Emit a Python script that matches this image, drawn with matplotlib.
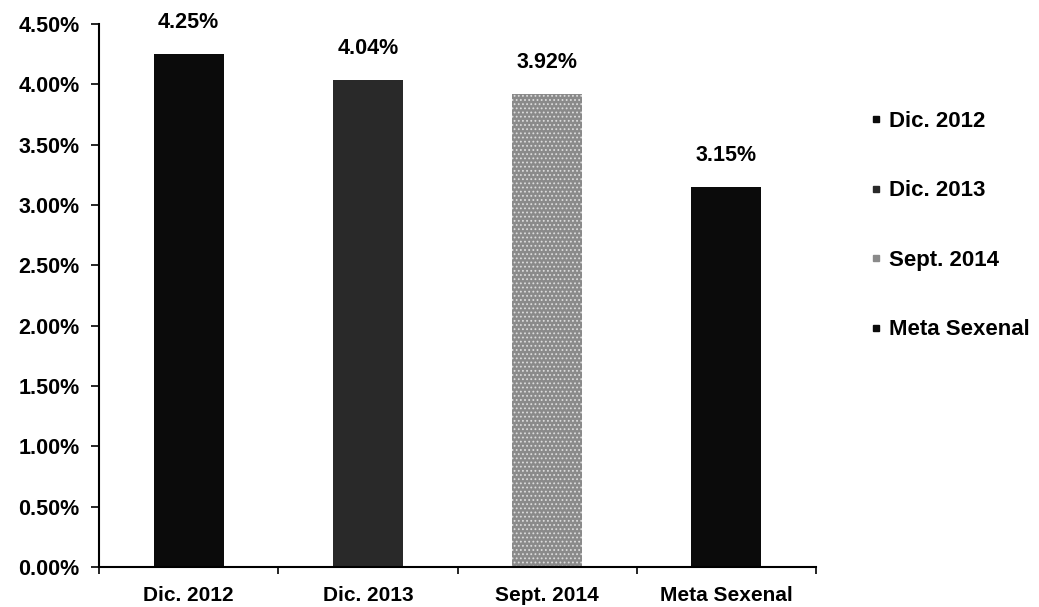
import matplotlib
matplotlib.use("Agg")
import matplotlib.pyplot as plt
from matplotlib.lines import Line2D
from matplotlib.ticker import FuncFormatter, MultipleLocator

categories = ["Dic. 2012", "Dic. 2013", "Sept. 2014", "Meta Sexenal"]
values = [4.25, 4.04, 3.92, 3.15]
colors = ["#0b0b0b", "#292929", "#8a8a8a", "#0b0b0b"]
hatches = [None, None, "....", None]

plt.rcParams["font.family"] = ["Liberation Sans", "DejaVu Sans"]
plt.rcParams["font.weight"] = "bold"
plt.rcParams["hatch.linewidth"] = 0.8

fig = plt.figure(figsize=(10.39, 6.07), dpi=100)
ax = fig.add_axes([99/1039, 1-567/607, (816-99)/1039, (567-24)/607])

x = list(range(len(categories)))
bars = ax.bar(x, values, width=0.39, color=colors, edgecolor="none", linewidth=0)
for b, h in zip(bars, hatches):
    if h:
        b.set_hatch(h)
        b.set_edgecolor("#dcdcdc")
        b.set_linewidth(0)

for xi, v in zip(x, values):
    ax.annotate(f"{v:.2f}%", (xi, v), xytext=(0, 18.5), textcoords="offset points",
                ha="center", va="baseline", fontsize=15.5, fontweight="bold")

ax.set_xlim(-0.5, len(categories) - 0.5)
ax.set_ylim(0, 4.5)
ax.yaxis.set_major_locator(MultipleLocator(0.5))
ax.yaxis.set_major_formatter(FuncFormatter(lambda v, p: f"{v:.2f}%"))
ax.set_xticks(x)
ax.set_xticklabels(categories)
ax.set_xticks([i - 0.5 for i in range(len(categories) + 1)], minor=True)
ax.tick_params(axis="x", which="major", length=0, pad=14, labelsize=15)
ax.tick_params(axis="x", which="minor", length=5, width=1.2, direction="out")
ax.tick_params(axis="y", which="major", length=6, width=1.2, direction="out", pad=8, labelsize=15.5)
for s in ["top", "right"]:
    ax.spines[s].set_visible(False)
for s in ["left", "bottom"]:
    ax.spines[s].set_linewidth(1.5)
for lbl in ax.get_xticklabels() + ax.get_yticklabels():
    lbl.set_fontweight("bold")

handles = [Line2D([0], [0], marker="s", linestyle="none", markersize=5,
                  markerfacecolor=c, markeredgecolor=c) for c in colors]
fig.legend(handles, categories, loc="upper left", bbox_to_anchor=(870/1039, 1-111/607),
           frameon=False, handlelength=0.5, handletextpad=0.35, labelspacing=2.18,
           borderaxespad=0, borderpad=0, prop={"size": 16, "weight": "bold"})

fig.savefig("out.png", dpi=100)
